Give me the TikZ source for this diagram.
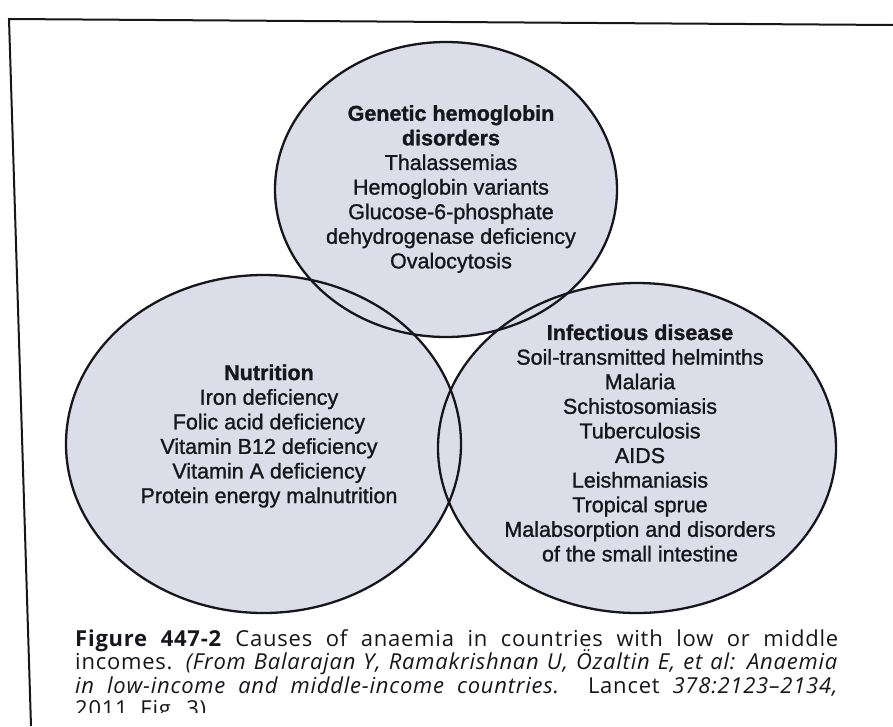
\documentclass[tikz,border=0pt]{standalone}
\usepackage{fontspec}
\setmainfont{Liberation Sans}
\newfontfamily\capfont[LetterSpace=3.5]{Open Sans}
\newfontfamily\vennfont[FakeBold=1.2]{Liberation Sans}
\definecolor{vennfill}{RGB}{219,222,233}
\definecolor{ink}{RGB}{22,22,28}
\begin{document}
\begin{tikzpicture}[x=1pt,y=-1pt,
  vtext/.style={align=center, font=\vennfont\fontsize{21.5}{24.6}\selectfont, text=ink, inner sep=0pt},
  capline/.style={anchor=base west, inner sep=0pt, text=ink, font=\capfont\fontsize{22}{23.5}\selectfont},
  vline/.style={line width=2.3pt, draw=ink},
  frameline/.style={line width=2pt, draw=ink}]
\useasboundingbox[fill=white] (0,0) rectangle (893,726);
% frame
\coordinate (ftl) at (9,19);
\coordinate (ftr) at (893,25);
\coordinate (fbl) at (31,726);
\draw[frameline] (ftr) -- (ftl) -- (fbl);
% ellipse fills
\fill[vennfill] (446,189.5) ellipse [x radius=171, y radius=147.5];
\fill[vennfill] (263.5,444) ellipse [x radius=197.5, y radius=169];
\fill[vennfill] (637,448) ellipse [x radius=199, y radius=165];
% ellipse outlines
\draw[vline] (446,189.5) ellipse [x radius=171, y radius=147.5];
\draw[vline] (263.5,444) ellipse [x radius=197.5, y radius=169];
\draw[vline] (637,448) ellipse [x radius=199, y radius=165];
% texts
\node[vtext] (gen) at (451,189) {\textbf{Genetic hemoglobin}\\\textbf{disorders}\\Thalassemias\\Hemoglobin variants\\Glucose-6-phosphate\\dehydrogenase deficiency\\Ovalocytosis};
\node[vtext] (nut) at (269,436) {\textbf{Nutrition}\\Iron deficiency\\Folic acid deficiency\\Vitamin B12 deficiency\\Vitamin A deficiency\\Protein energy malnutrition};
\node[vtext] (inf) at (640,443) {\textbf{Infectious disease}\\Soil-transmitted helminths\\Malaria\\Schistosomiasis\\Tuberculosis\\AIDS\\Leishmaniasis\\Tropical sprue\\Malabsorption and disorders\\of the small intestine};
% caption
\begin{scope}
\clip (0,0) rectangle (893,712);
\node[capline] (cap1) at (75,646) {\makebox[763pt][s]{\textbf{Figure 447-2} Causes of anaemia in countries with low or middle}};
\node[capline] (cap2) at (75,669.5) {\makebox[763pt][s]{incomes. \textit{(From Balarajan Y, Ramakrishnan U, Özaltin E, et al: Anaemia}}};
\node[capline] (cap3) at (75,693) {\makebox[763pt][s]{\textit{in low-income and middle-income countries.} Lancet \textit{378:2123–2134,}}};
\node[capline] (cap4) at (75,716.5) {2011, Fig. 3)};
\end{scope}
\end{tikzpicture}
\end{document}
